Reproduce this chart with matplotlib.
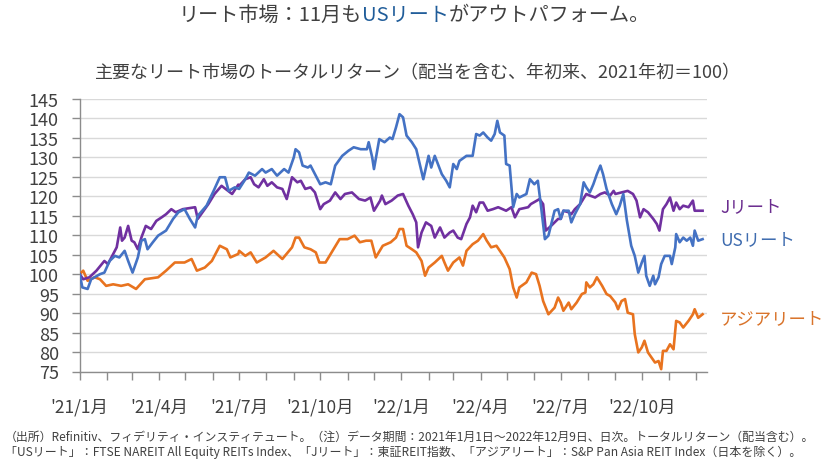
import matplotlib
matplotlib.use('Agg')
import matplotlib.pyplot as plt
import matplotlib.dates as mdates
import matplotlib.transforms as mtransforms
import pandas as pd

plt.rcParams['font.family'] = ['Noto Sans CJK JP', 'DejaVu Sans']

# ---------------- data ----------------
us_dates = [
    '2021-01-01', '2021-01-04', '2021-01-10', '2021-01-14', '2021-01-24', '2021-01-29', '2021-02-04', '2021-02-10',
    '2021-02-15', '2021-02-21', '2021-02-25', '2021-03-02', '2021-03-08', '2021-03-12', '2021-03-16', '2021-03-19',
    '2021-03-25', '2021-03-31', '2021-04-09', '2021-04-17', '2021-04-23', '2021-04-30', '2021-05-06', '2021-05-12',
    '2021-05-15', '2021-05-25', '2021-06-02', '2021-06-09', '2021-06-15', '2021-06-19', '2021-06-26', '2021-07-01',
    '2021-07-08', '2021-07-12', '2021-07-19', '2021-07-27', '2021-07-31', '2021-08-07', '2021-08-13', '2021-08-21',
    '2021-08-26', '2021-09-01', '2021-09-03', '2021-09-07', '2021-09-11', '2021-09-17', '2021-09-20', '2021-09-26',
    '2021-10-01', '2021-10-07', '2021-10-13', '2021-10-18', '2021-10-26', '2021-11-02', '2021-11-08', '2021-11-16',
    '2021-11-23', '2021-11-25', '2021-11-29', '2021-12-01', '2021-12-03', '2021-12-07', '2021-12-13', '2021-12-19',
    '2021-12-22', '2021-12-26', '2021-12-30', '2022-01-03', '2022-01-07', '2022-01-13', '2022-01-18', '2022-01-22',
    '2022-01-26', '2022-02-01', '2022-02-04', '2022-02-08', '2022-02-16', '2022-02-21', '2022-02-25', '2022-03-01',
    '2022-03-05', '2022-03-08', '2022-03-16', '2022-03-23', '2022-03-27', '2022-03-31', '2022-04-04', '2022-04-09',
    '2022-04-13', '2022-04-17', '2022-04-20', '2022-04-23', '2022-04-28', '2022-04-30', '2022-05-04', '2022-05-08',
    '2022-05-12', '2022-05-15', '2022-05-23', '2022-05-27', '2022-06-01', '2022-06-05', '2022-06-09', '2022-06-13',
    '2022-06-17', '2022-06-24', '2022-06-28', '2022-07-01', '2022-07-04', '2022-07-10', '2022-07-13', '2022-07-17',
    '2022-07-23', '2022-07-27', '2022-07-30', '2022-08-03', '2022-08-07', '2022-08-11', '2022-08-15', '2022-08-18',
    '2022-08-22', '2022-08-28', '2022-09-02', '2022-09-06', '2022-09-10', '2022-09-14', '2022-09-19', '2022-09-23',
    '2022-09-27', '2022-10-01', '2022-10-04', '2022-10-06', '2022-10-10', '2022-10-14', '2022-10-16', '2022-10-20',
    '2022-10-23', '2022-10-27', '2022-11-02', '2022-11-04', '2022-11-08', '2022-11-09', '2022-11-13', '2022-11-17',
    '2022-11-21', '2022-11-25', '2022-11-28', '2022-11-30', '2022-12-04', '2022-12-09',
]
us_values = [
    100, 96.6, 96.2, 98.7, 100, 100.4, 103.4, 104.7,
    104.3, 106, 103.4, 100.4, 104.3, 108.6, 109, 106.4,
    108.2, 109.9, 111.2, 114.2, 115.9, 116.7, 114.2, 112,
    115, 117.6, 121.4, 124.9, 124.9, 121.4, 122.3, 121.9,
    124.4, 126.1, 125.3, 127, 126.1, 127, 125.3, 127,
    126.1, 130, 132.1, 131.3, 127.9, 127.4, 127.9, 125.3,
    123.1, 123.6, 123.1, 127.9, 130.4, 131.7, 132.6, 132.1,
    132.1, 133.9, 130, 127, 129.6, 134.7, 133.9, 135.1,
    134.7, 137.7, 141.1, 140.3, 135.6, 133.9, 132.1, 128.3,
    124.4, 130.4, 127.4, 130.4, 125.7, 124, 122.3, 128.3,
    127, 129.1, 130.4, 130.4, 136, 135.6, 136.4, 135.1,
    134.3, 136, 139.4, 136.4, 135.6, 128.3, 127.9, 117.2,
    120.6, 119.7, 120.6, 124.4, 123.1, 124, 116.7, 109,
    109.9, 116.3, 116.7, 114.2, 116.3, 116.3, 113.3, 115.4,
    118, 123.6, 122.3, 121, 123.1, 125.7, 127.9, 125.7,
    121.9, 118, 115.4, 117.6, 120.6, 113.9, 107.3, 104.7,
    100.4, 103, 104.7, 99.6, 97, 99.6, 97.4, 99.2,
    102.6, 104.7, 104.7, 102.6, 106.9, 110.3, 108.2, 109.4,
    108.6, 109.4, 107.3, 111.2, 108.6, 109,
]

j_dates = [
    '2021-01-01', '2021-01-05', '2021-01-12', '2021-01-20', '2021-01-29', '2021-02-02', '2021-02-08', '2021-02-12',
    '2021-02-16', '2021-02-18', '2021-02-21', '2021-02-25', '2021-03-01', '2021-03-04', '2021-03-08', '2021-03-12',
    '2021-03-17', '2021-03-23', '2021-03-29', '2021-04-04', '2021-04-09', '2021-04-15', '2021-04-20', '2021-04-28',
    '2021-05-12', '2021-05-15', '2021-05-27', '2021-06-03', '2021-06-11', '2021-06-23', '2021-06-30', '2021-07-01',
    '2021-07-08', '2021-07-14', '2021-07-18', '2021-07-23', '2021-07-29', '2021-08-02', '2021-08-07', '2021-08-13',
    '2021-08-19', '2021-08-24', '2021-08-30', '2021-09-05', '2021-09-09', '2021-09-14', '2021-09-20', '2021-09-25',
    '2021-10-01', '2021-10-05', '2021-10-12', '2021-10-18', '2021-10-24', '2021-10-29', '2021-11-06', '2021-11-14',
    '2021-11-21', '2021-11-27', '2021-12-01', '2021-12-08', '2021-12-10', '2021-12-14', '2021-12-21', '2021-12-28',
    '2022-01-03', '2022-01-09', '2022-01-14', '2022-01-18', '2022-01-20', '2022-01-24', '2022-01-29', '2022-02-04',
    '2022-02-08', '2022-02-14', '2022-02-19', '2022-02-25', '2022-03-01', '2022-03-06', '2022-03-10', '2022-03-16',
    '2022-03-20', '2022-03-23', '2022-03-27', '2022-03-31', '2022-04-04', '2022-04-09', '2022-04-15', '2022-04-21',
    '2022-04-30', '2022-05-06', '2022-05-10', '2022-05-15', '2022-05-25', '2022-05-28', '2022-06-07', '2022-06-11',
    '2022-06-14', '2022-06-20', '2022-06-28', '2022-07-01', '2022-07-04', '2022-07-10', '2022-07-13', '2022-07-17',
    '2022-07-23', '2022-07-30', '2022-08-03', '2022-08-09', '2022-08-15', '2022-08-20', '2022-08-26', '2022-08-30',
    '2022-09-01', '2022-09-08', '2022-09-15', '2022-09-21', '2022-09-25', '2022-09-29', '2022-10-03', '2022-10-08',
    '2022-10-14', '2022-10-18', '2022-10-21', '2022-10-25', '2022-10-29', '2022-11-02', '2022-11-06', '2022-11-09',
    '2022-11-13', '2022-11-17', '2022-11-23', '2022-11-28', '2022-11-30', '2022-12-09',
]
j_values = [
    100, 98.7, 99.2, 100.9, 103.4, 102.6, 105.2, 106.9,
    112, 108.6, 109.4, 112.4, 108.6, 108.2, 106.4, 109.4,
    112.4, 111.6, 113.7, 114.6, 115.4, 116.7, 115.9, 116.7,
    117.2, 114.2, 118, 120.6, 122.7, 120.6, 123, 122.7,
    124.4, 124.9, 123.1, 122.3, 124.4, 122.7, 123.6, 122.3,
    121.9, 119.3, 124.9, 123.6, 124, 121.9, 122.3, 121,
    116.7, 118, 118.9, 121, 119.3, 120.6, 121, 119.3,
    118.9, 119.7, 116.3, 118.9, 120.2, 118, 118.9, 120.2,
    120.6, 117.6, 115.4, 113.3, 106.9, 110.7, 113.3, 112.4,
    109.4, 112, 109.4, 110.7, 111.2, 109.4, 109, 112.9,
    114.6, 117.6, 115.9, 118.4, 118.4, 116.3, 116.7, 117.2,
    116.3, 117.2, 114.6, 116.7, 117.2, 118, 119.3, 118,
    111.2, 112.4, 114.2, 114.2, 116.3, 115.9, 115.4, 116.7,
    118, 120.6, 120.2, 119.7, 120.6, 121, 120.2, 121.4,
    120.6, 121, 121.4, 120.6, 118.9, 114.6, 116.7, 115.9,
    114.2, 112.9, 111.2, 116.7, 118, 119.7, 116.3, 118.4,
    116.7, 117.6, 117.2, 118.9, 116.3, 116.3,
]

asia_dates = [
    '2021-01-01', '2021-01-05', '2021-01-10', '2021-01-18', '2021-01-24', '2021-01-31', '2021-02-08', '2021-02-17',
    '2021-02-25', '2021-03-06', '2021-03-16', '2021-03-31', '2021-04-09', '2021-04-19', '2021-04-30', '2021-05-08',
    '2021-05-14', '2021-05-23', '2021-05-31', '2021-06-09', '2021-06-17', '2021-06-21', '2021-06-30', '2021-07-01',
    '2021-07-08', '2021-07-14', '2021-07-21', '2021-07-31', '2021-08-09', '2021-08-19', '2021-08-30', '2021-09-03',
    '2021-09-07', '2021-09-13', '2021-09-20', '2021-09-26', '2021-09-30', '2021-10-07', '2021-10-15', '2021-10-23',
    '2021-11-01', '2021-11-09', '2021-11-15', '2021-11-22', '2021-11-28', '2021-12-03', '2021-12-11', '2021-12-20',
    '2021-12-26', '2021-12-30', '2022-01-03', '2022-01-07', '2022-01-13', '2022-01-18', '2022-01-24', '2022-01-28',
    '2022-02-01', '2022-02-08', '2022-02-16', '2022-02-19', '2022-02-23', '2022-03-01', '2022-03-08', '2022-03-12',
    '2022-03-16', '2022-03-23', '2022-03-29', '2022-04-04', '2022-04-08', '2022-04-13', '2022-04-19', '2022-04-28',
    '2022-05-04', '2022-05-08', '2022-05-12', '2022-05-15', '2022-05-23', '2022-05-29', '2022-06-03', '2022-06-07',
    '2022-06-11', '2022-06-17', '2022-06-24', '2022-06-28', '2022-07-01', '2022-07-04', '2022-07-10', '2022-07-13',
    '2022-07-19', '2022-07-25', '2022-07-29', '2022-07-30', '2022-08-03', '2022-08-07', '2022-08-11', '2022-08-17',
    '2022-08-22', '2022-08-26', '2022-09-01', '2022-09-04', '2022-09-08', '2022-09-12', '2022-09-15', '2022-09-21',
    '2022-09-23', '2022-09-27', '2022-10-01', '2022-10-04', '2022-10-08', '2022-10-12', '2022-10-16', '2022-10-20',
    '2022-10-23', '2022-10-25', '2022-10-29', '2022-11-02', '2022-11-06', '2022-11-09', '2022-11-13', '2022-11-17',
    '2022-11-23', '2022-11-28', '2022-11-30', '2022-12-04', '2022-12-09',
]
asia_values = [
    100, 100.9, 98.3, 99.2, 98.7, 97, 97.4, 97,
    97.4, 96.2, 98.7, 99.2, 100.9, 103, 103, 103.9,
    100.9, 101.7, 103.4, 107.3, 106.4, 104.3, 105.2, 106,
    104.7, 105.6, 103, 104.3, 106, 103.9, 106.9, 109.4,
    109.4, 106.9, 106.4, 105.6, 103, 103, 106, 109,
    109, 109.9, 108.2, 108.6, 108.6, 104.3, 107.3, 108.2,
    109.4, 111.6, 111.6, 107.3, 106.4, 105.6, 103.4, 99.6,
    101.7, 103, 104.7, 103, 100.9, 103, 104.3, 102.2,
    106, 107.7, 108.6, 110.3, 108.6, 106.9, 107.3, 104.3,
    101.3, 96.6, 94, 96.6, 97.9, 100.4, 100, 97,
    93.1, 89.7, 91.4, 94, 92.7, 90.6, 92.7, 91,
    92.7, 94.9, 95.3, 97.9, 96.6, 97.4, 99.2, 97,
    94.9, 94.4, 92.7, 91, 93.1, 93.6, 90.1, 89.7,
    84.6, 79.9, 81.2, 82.9, 79.9, 78.6, 77.3, 77.7,
    75.6, 80.3, 80.3, 82, 80.7, 88, 87.6, 86.3,
    88, 89.7, 91, 88.8, 89.7,
]

series_names = ['Jリート', 'USリート', 'アジアリート']
y_ticks = list(range(75, 146, 5))
x_tick_dates = ['2021-01-01', '2021-04-01', '2021-07-01', '2021-10-01',
                '2022-01-01', '2022-04-01', '2022-07-01', '2022-10-01']
x_tick_labels = ["'21/1月", "'21/4月", "'21/7月", "'21/10月",
                 "'22/1月", "'22/4月", "'22/7月", "'22/10月"]

title_parts = ['リート市場：11月も', 'USリート', 'がアウトパフォーム。']
subtitle = '主要なリート市場のトータルリターン（配当を含む、年初来、2021年初＝100）'
footnotes = [
    '（出所）Refinitiv、フィデリティ・インスティテュート。（注）データ期間：2021年1月1日～2022年12月9日、日次。トータルリターン（配当含む）。',
    '「USリート」：FTSE NAREIT All Equity REITs Index、「Jリート」：東証REIT指数、「アジアリート」：S&P Pan Asia REIT Index（日本を除く）。',
]

# ---------------- style ----------------
W, H = 825, 464
C_US = '#4472C4'
C_J = '#7030A0'
C_ASIA = '#E8731F'
TXT = '#404040'
GRID = '#D9D9D9'
AXC = '#8C8C8C'

fig = plt.figure(figsize=(W / 100, H / 100), dpi=100)
ax = fig.add_axes([79.7 / W, 1 - 372.5 / H, (707 - 79.7) / W, (372.5 - 100) / H])

ax.plot(pd.to_datetime(asia_dates), asia_values, color=C_ASIA, lw=1.9, zorder=3)
ax.plot(pd.to_datetime(j_dates), j_values, color=C_J, lw=1.9, zorder=4)
ax.plot(pd.to_datetime(us_dates), us_values, color=C_US, lw=1.9, zorder=5)

ax.set_ylim(75, 145)
ax.set_xlim(pd.Timestamp('2021-01-01'), pd.Timestamp('2022-12-14'))
ax.set_yticks(y_ticks)
ax.set_yticklabels([str(v) for v in y_ticks])
ax.grid(axis='y', color=GRID, lw=1.0, zorder=0)
ax.set_axisbelow(True)

ax.set_xticks(pd.to_datetime(x_tick_dates))
ax.set_xticklabels(x_tick_labels)
ax.xaxis.set_minor_locator(mdates.MonthLocator())

for s in ['top', 'right']:
    ax.spines[s].set_visible(False)
for s in ['left', 'bottom']:
    ax.spines[s].set_color(AXC)
    ax.spines[s].set_linewidth(1.0)

ax.tick_params(axis='y', length=6, width=1.0, color=AXC, labelsize=13, labelcolor=TXT, pad=9)
ax.tick_params(axis='x', which='both', length=6, width=1.0, color=AXC, direction='out')
ax.tick_params(axis='x', which='major', labelsize=12.5, labelcolor=TXT, pad=13)

# series labels at right end
label_y = [117.6, 109.1, 88.6]
label_colors = ['#6B2D8F', '#3F6CAF', '#D9732A']
trans = mtransforms.blended_transform_factory(ax.transAxes, ax.transData)
for name, yv, c in zip(series_names, label_y, label_colors):
    ax.text((720 - 79.7) / (707 - 79.7), yv, name, transform=trans, color=c,
            fontsize=12.5, va='center', ha='left')

# title with coloured part
fig.canvas.draw()
r = fig.canvas.get_renderer()
title_colors = [TXT, '#1F5C99', TXT]
tobjs, widths = [], []
for s, c in zip(title_parts, title_colors):
    t = fig.text(0, 1 - 15 / H, s, fontsize=14.5, color=c, va='center', ha='left')
    widths.append(t.get_window_extent(r).width)
    tobjs.append(t)
x = 414 - sum(widths) / 2
for t, w in zip(tobjs, widths):
    t.set_x(x / W)
    x += w

fig.text(418 / W, 1 - 73 / H, subtitle, fontsize=13, color=TXT, va='center', ha='center')

# footnotes, sized to reference width
fn_targets = [(437, 813), (452, 795)]
for txt, (yc, tw) in zip(footnotes, fn_targets):
    t = fig.text(5 / W, 1 - yc / H, txt, fontsize=8, color=TXT, va='center', ha='left')
    w = t.get_window_extent(r).width
    t.set_fontsize(8 * tw / w)

fig.savefig('out.png', dpi=100)
